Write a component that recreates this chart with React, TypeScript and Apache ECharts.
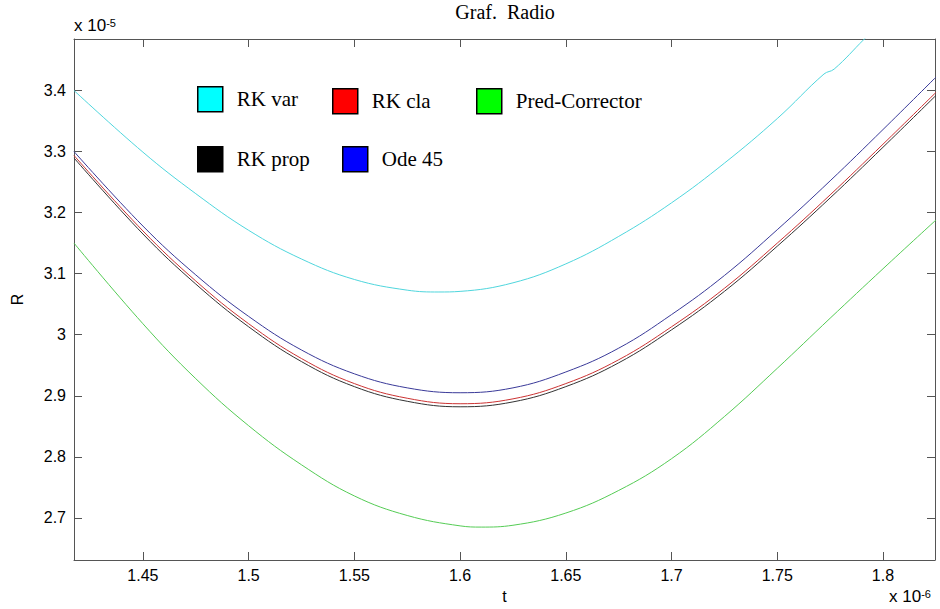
import React, { useEffect, useRef } from "react";
import * as echarts from "echarts";

// t in units of 1e-6, R in units of 1e-5
const tTicks = [1.45, 1.5, 1.55, 1.6, 1.65, 1.7, 1.75, 1.8];
const rTicks = [2.7, 2.8, 2.9, 3.0, 3.1, 3.2, 3.3, 3.4];

const rkVarT = [1.4174, 1.45, 1.475, 1.5, 1.525, 1.55, 1.575, 1.59, 1.6, 1.625, 1.65, 1.675, 1.7, 1.725, 1.75, 1.7721, 1.7769, 1.7911, 1.8];
const rkVarR = [3.4, 3.299, 3.231, 3.171, 3.124, 3.0905, 3.073, 3.07, 3.071, 3.085, 3.116, 3.161, 3.216, 3.281, 3.354, 3.427, 3.435, 3.484, 3.514];

const gridT = [1.4174, 1.45, 1.475, 1.5, 1.525, 1.55, 1.575, 1.6, 1.625, 1.65, 1.675, 1.7, 1.725, 1.75, 1.775, 1.8, 1.8251];
const odeR = [3.3, 3.178, 3.098, 3.03, 2.975, 2.936, 2.913, 2.905, 2.913, 2.939, 2.978, 3.033, 3.097, 3.172, 3.252, 3.336, 3.422];
const rkClaR = [3.2935, 3.17, 3.088, 3.018, 2.961, 2.92, 2.896, 2.887, 2.895, 2.92, 2.959, 3.013, 3.076, 3.15, 3.229, 3.312, 3.397];
const rkPropR = [3.2895, 3.165, 3.083, 3.013, 2.956, 2.915, 2.891, 2.882, 2.89, 2.915, 2.954, 3.008, 3.071, 3.145, 3.224, 3.307, 3.392];

const predT = [1.4174, 1.45, 1.475, 1.5, 1.525, 1.55, 1.575, 1.6, 1.61, 1.625, 1.65, 1.675, 1.7, 1.725, 1.75, 1.775, 1.8, 1.8251];
const predR = [3.15, 3.018, 2.928, 2.851, 2.787, 2.736, 2.704, 2.687, 2.685, 2.688, 2.708, 2.745, 2.797, 2.866, 2.945, 3.027, 3.108, 3.188];

const seriesNames = ["RK var", "RK cla", "Pred-Corrector", "RK prop", "Ode 45"];
const lineColors = ["#4fd6dd", "#cc3333", "#55cc55", "#333333", "#3a3a99"];
const legendColors = ["#00ffff", "#ff0000", "#00ff00", "#000000", "#0000ff"];

const SANS = "'Liberation Sans', Arial, sans-serif";
const SERIF = "'Liberation Serif', 'Times New Roman', serif";

const pairs = (t: number[], r: number[]) => t.map((x, i) => [x, r[i]]);
const fmt = (v: number) => String(parseFloat(v.toFixed(2)));

export default function App() {
  const ref = useRef<HTMLDivElement>(null);
  useEffect(() => {
    if (!ref.current) return;
    const chart = echarts.init(ref.current, null, { renderer: "svg" });
    const axisColor = "#555";
    const xMin = 1.4174, xMax = 1.8246, yMin = 2.6311, yMax = 3.4843;
    const legendPos = [
      [197, 86],
      [332, 88],
      [476, 88],
      [197, 146],
      [342, 146],
    ];
    const data = [
      pairs(rkVarT, rkVarR),
      pairs(gridT, rkClaR),
      pairs(predT, predR),
      pairs(gridT, rkPropR),
      pairs(gridT, odeR),
    ];
    const tickStyle = { show: true, inside: true, length: 8, lineStyle: { color: axisColor } };
    chart.setOption({
      animation: false,
      backgroundColor: "#fff",
      title: {
        text: "Graf.  Radio",
        left: 505,
        textAlign: "center",
        top: 2,
        padding: 0,
        textStyle: { fontFamily: SERIF, fontSize: 20, fontWeight: "normal", color: "#000" },
      },
      grid: { left: 74, top: 39, right: 5, bottom: 47, containLabel: false },
      legend: seriesNames.map((n, i) => ({
        data: [{ name: n, itemStyle: { color: legendColors[i], borderColor: "#000", borderWidth: 1.5 } }],
        left: legendPos[i][0],
        top: legendPos[i][1],
        icon: "rect",
        itemWidth: 25,
        itemHeight: 25,
        padding: 0,
        selectedMode: false,
        textStyle: { fontFamily: SERIF, fontSize: 21, color: "#000", padding: [0, 0, 0, 9] },
      })),
      xAxis: [
        {
          type: "value",
          min: xMin,
          max: xMax,
          position: "bottom",
          name: "t",
          nameLocation: "middle",
          nameGap: 28,
          nameTextStyle: { fontFamily: SANS, fontSize: 16, color: "#000" },
          axisLine: { show: true, lineStyle: { color: axisColor, width: 1 } },
          axisTick: { ...tickStyle, customValues: tTicks },
          axisLabel: { show: true, customValues: tTicks, formatter: fmt, fontFamily: SANS, fontSize: 16, color: "#000", margin: 7 },
          splitLine: { show: false },
        },
        {
          type: "value",
          min: xMin,
          max: xMax,
          position: "top",
          axisLine: { show: true, onZero: false, lineStyle: { color: axisColor, width: 1 } },
          axisTick: { ...tickStyle, customValues: tTicks },
          axisLabel: { show: false },
          splitLine: { show: false },
        },
      ],
      yAxis: [
        {
          type: "value",
          min: yMin,
          max: yMax,
          position: "left",
          name: "R",
          nameLocation: "middle",
          nameGap: 49,
          nameTextStyle: { fontFamily: SANS, fontSize: 16, color: "#000" },
          axisLine: { show: true, lineStyle: { color: axisColor, width: 1 } },
          axisTick: { ...tickStyle, customValues: rTicks },
          axisLabel: { show: true, customValues: rTicks, formatter: fmt, fontFamily: SANS, fontSize: 16, color: "#000", margin: 8 },
          splitLine: { show: false },
        },
        {
          type: "value",
          min: yMin,
          max: yMax,
          position: "right",
          axisLine: { show: true, onZero: false, lineStyle: { color: axisColor, width: 1 } },
          axisTick: { ...tickStyle, customValues: rTicks },
          axisLabel: { show: false },
          splitLine: { show: false },
        },
      ],
      graphic: [
        {
          type: "text",
          left: 74,
          top: 17,
          style: {
            text: "{a|x 10}{b|-5}",
            rich: {
              a: { fontFamily: SANS, fontSize: 17, fill: "#000", verticalAlign: "bottom" },
              b: { fontFamily: SANS, fontSize: 11, fill: "#000", verticalAlign: "top" },
            },
          },
        },
        {
          type: "text",
          left: 889,
          top: 588,
          style: {
            text: "{a|x 10}{b|-6}",
            rich: {
              a: { fontFamily: SANS, fontSize: 17, fill: "#000", verticalAlign: "bottom" },
              b: { fontFamily: SANS, fontSize: 11, fill: "#000", verticalAlign: "top" },
            },
          },
        },
      ],
      series: seriesNames.map((n, i) => ({
        name: n,
        type: "line",
        xAxisIndex: 0,
        yAxisIndex: 0,
        data: data[i],
        showSymbol: false,
        smooth: 0.4,
        clip: true,
        color: legendColors[i],
        lineStyle: { color: lineColors[i], width: 1 },
      })),
    });
    return () => chart.dispose();
  }, []);
  return <div ref={ref} style={{ position: "fixed", left: 0, top: 0, width: 940, height: 609 }} />;
}
